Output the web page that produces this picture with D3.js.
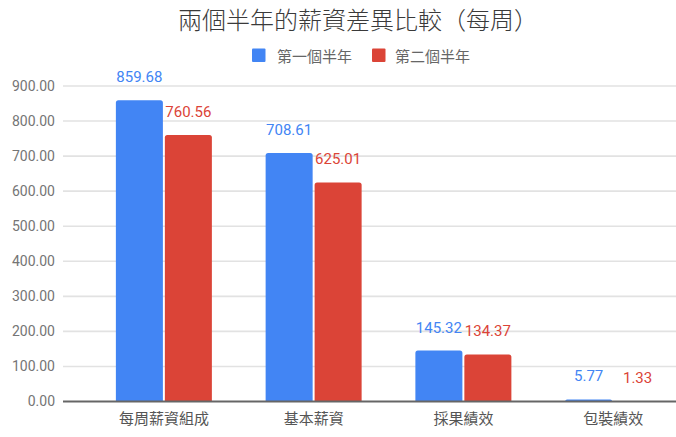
<!DOCTYPE html>
<html>
<head>
<meta charset="utf-8">
<script src="https://cdn.jsdelivr.net/npm/d3@7"></script>
<style>
  html, body { margin: 0; padding: 0; background: #fff; }
  svg { display: block; }
  text { font-family: Roboto, "Noto Sans CJK TC", "Noto Sans", sans-serif; }
  .cjk { font-family: "Noto Sans CJK TC", "Noto Sans CJK SC", sans-serif; }
</style>
</head>
<body>
<svg id="chart" width="676" height="437"></svg>
<script>
const title = "兩個半年的薪資差異比較（每周）";
const categories = ["每周薪資組成", "基本薪資", "採果績效", "包裝績效"];
const seriesNames = ["第一個半年", "第二個半年"];
const firstHalf = [859.68, 708.61, 145.32, 5.77];
const secondHalf = [760.56, 625.01, 134.37, 1.33];
const seriesColors = ["#4285F4", "#DB4437"];
const yTicks = [0, 100, 200, 300, 400, 500, 600, 700, 800, 900];

const seriesValues = [firstHalf, secondHalf];
const svg = d3.select("#chart");

const y = d3.scaleLinear().domain([0, 900]).range([401.5, 86]);
const x0 = d3.scaleBand().domain(categories).range([89, 688]);
const groupW = 96;
const x1 = d3.scaleBand().domain(seriesNames).range([0, groupW]).paddingInner(0.04);

// gridlines
const gridG = svg.append("g");
gridG.selectAll("line").data(yTicks.filter(t => t !== 0)).join("line")
  .attr("x1", 63).attr("x2", 676)
  .attr("y1", d => y(d)).attr("y2", d => y(d))
  .attr("stroke", "#e2e2e2").attr("stroke-width", 1.6);

// y axis labels via d3 axis
const yAxis = d3.axisLeft(y).tickValues(yTicks).tickFormat(d3.format(".2f")).tickSize(0).tickPadding(0);
const yg = svg.append("g").attr("transform", "translate(55,0)").call(yAxis);
yg.select(".domain").remove();
yg.selectAll("text").attr("font-size", 14).attr("fill", "#757575")
  .attr("font-family", "Roboto, sans-serif");

// bars
function topRoundedRect(x, yTop, w, h, r) {
  r = Math.min(r, h, w / 2);
  if (h <= 0) return "";
  return `M${x},${yTop + h}V${yTop + r}Q${x},${yTop} ${x + r},${yTop}H${x + w - r}Q${x + w},${yTop} ${x + w},${yTop + r}V${yTop + h}Z`;
}

const rows = [];
categories.forEach((c, i) => {
  seriesNames.forEach((s, j) => {
    rows.push({ cat: c, series: s, value: seriesValues[j][i], color: seriesColors[j] });
  });
});
const barX = d => x0(d.cat) + (x0.bandwidth() - groupW) / 2 + x1(d.series);

svg.append("g").selectAll("path").data(rows).join("path")
  .attr("d", d => topRoundedRect(barX(d), y(d.value), x1.bandwidth(), y(0) - y(d.value), 2.5))
  .attr("fill", d => d.color);

// value labels
svg.append("g").selectAll("text").data(rows).join("text")
  .attr("x", d => barX(d) + x1.bandwidth() / 2)
  .attr("y", d => y(d.value) - 18)
  .attr("text-anchor", "middle")
  .attr("font-size", 15)
  .attr("font-family", "Roboto, sans-serif")
  .attr("fill", d => d.color)
  .text(d => d3.format(".2f")(d.value));

// baseline
svg.append("line").attr("x1", 63).attr("x2", 676)
  .attr("y1", y(0)).attr("y2", y(0))
  .attr("stroke", "#666").attr("stroke-width", 1.8);

// x axis labels
const xAxis = d3.axisBottom(x0).tickSize(0).tickPadding(0);
const xg = svg.append("g").attr("transform", "translate(0,417)").call(xAxis);
xg.select(".domain").remove();
xg.selectAll("text").attr("class", "cjk").attr("font-size", 15).attr("fill", "#555")
  .attr("dy", null).attr("dominant-baseline", "central")
  .attr("font-family", "'Noto Sans CJK TC', sans-serif");

// title
svg.append("text").attr("class", "cjk")
  .attr("x", 358).attr("y", 18.5)
  .attr("text-anchor", "middle")
  .attr("dominant-baseline", "central")
  .attr("font-size", 24).attr("font-weight", 300)
  .attr("fill", "#3a3a3a")
  .text(title);

// legend
const legendX = [252, 372];
const legendTextX = [277, 395];
const lg = svg.append("g");
seriesNames.forEach((s, j) => {
  lg.append("rect").attr("x", legendX[j]).attr("y", 48.5).attr("width", 13.5).attr("height", 13.5)
    .attr("rx", 1).attr("fill", seriesColors[j]);
  lg.append("text").attr("class", "cjk").attr("x", legendTextX[j]).attr("y", 55.5)
    .attr("dominant-baseline", "central").attr("font-size", 15).attr("fill", "#666")
    .text(s);
});
</script>
</body>
</html>
